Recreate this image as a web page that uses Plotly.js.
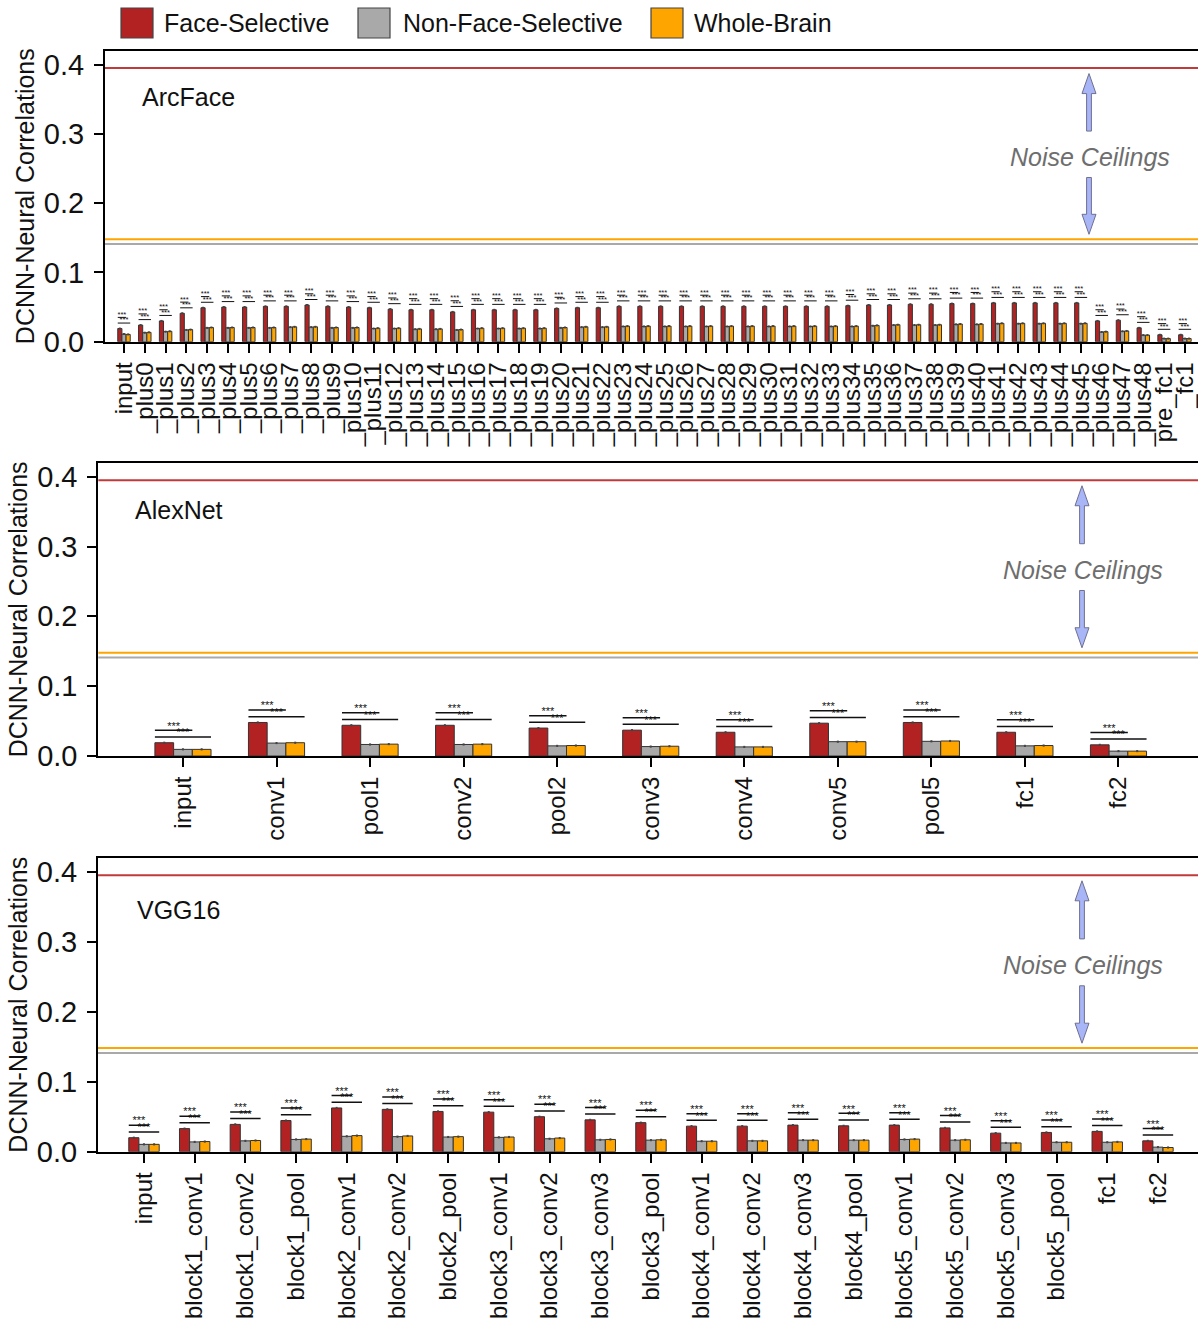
<!DOCTYPE html>
<html>
<head>
<meta charset="utf-8">
<script src="https://cdn.plot.ly/plotly-3.0.1.min.js"></script>
<style>
  html, body { margin: 0; padding: 0; background: #ffffff; }
  #chart { width: 1198px; height: 1319px; }
</style>
</head>
<body>
<div id="chart"></div>
<script>
// ---------------- DATA ----------------
const seriesNames = ['Face-Selective', 'Non-Face-Selective', 'Whole-Brain'];
const seriesColors = ['#B22222', '#A9A9A9', '#FFA500'];
// noise ceilings in series order: face, non-face, whole-brain
const noiseCeilings = [0.395, 0.141, 0.148];
const sigLabel = '***';

// ArcFace
const arcLabels = ['input', '_plus0', '_plus1', '_plus2', '_plus3', '_plus4', '_plus5', '_plus6', '_plus7', '_plus8',
  '_plus9', '_plus10', '_plus11', '_plus12', '_plus13', '_plus14', '_plus15', '_plus16', '_plus17', '_plus18',
  '_plus19', '_plus20', '_plus21', '_plus22', '_plus23', '_plus24', '_plus25', '_plus26', '_plus27', '_plus28',
  '_plus29', '_plus30', '_plus31', '_plus32', '_plus33', '_plus34', '_plus35', '_plus36', '_plus37', '_plus38',
  '_plus39', '_plus40', '_plus41', '_plus42', '_plus43', '_plus44', '_plus45', '_plus46', '_plus47', '_plus48',
  'pre_fc1', '_fc1'];
const arcFace = [0.019, 0.024, 0.030, 0.041, 0.049, 0.050, 0.050, 0.051, 0.051, 0.053,
  0.051, 0.050, 0.049, 0.047, 0.046, 0.046, 0.043, 0.046, 0.046, 0.046,
  0.046, 0.048, 0.049, 0.049, 0.051, 0.051, 0.051, 0.051, 0.051, 0.051,
  0.051, 0.051, 0.051, 0.051, 0.051, 0.052, 0.053, 0.053, 0.054, 0.054,
  0.055, 0.055, 0.056, 0.056, 0.056, 0.056, 0.056, 0.030, 0.031, 0.020,
  0.010, 0.010];
const arcNonFace = [0.011, 0.013, 0.0145, 0.017, 0.020, 0.020, 0.020, 0.020, 0.021, 0.021,
  0.020, 0.020, 0.019, 0.019, 0.018, 0.018, 0.017, 0.019, 0.019, 0.019,
  0.019, 0.020, 0.021, 0.021, 0.022, 0.022, 0.022, 0.022, 0.022, 0.022,
  0.022, 0.022, 0.022, 0.022, 0.022, 0.022, 0.023, 0.024, 0.024, 0.024,
  0.025, 0.025, 0.026, 0.026, 0.026, 0.026, 0.026, 0.014, 0.015, 0.0095,
  0.0045, 0.0045];
const arcWhole = [0.0105, 0.0135, 0.015, 0.0175, 0.0205, 0.0205, 0.0205, 0.0205, 0.0215, 0.0215,
  0.0205, 0.0205, 0.0195, 0.0195, 0.0185, 0.0185, 0.0175, 0.0195, 0.0195, 0.0195,
  0.0195, 0.0205, 0.0215, 0.0215, 0.0225, 0.0225, 0.0225, 0.0225, 0.0225, 0.0225,
  0.0225, 0.0225, 0.0225, 0.0225, 0.0225, 0.0225, 0.0235, 0.0245, 0.0245, 0.0245,
  0.0255, 0.0255, 0.0265, 0.0265, 0.0265, 0.0265, 0.0265, 0.0145, 0.0155, 0.0095,
  0.0045, 0.0045];

// AlexNet
const alexLabels = ['input', 'conv1', 'pool1', 'conv2', 'pool2', 'conv3', 'conv4', 'conv5', 'pool5', 'fc1', 'fc2'];
const alexFace = [0.019, 0.048, 0.044, 0.044, 0.040, 0.037, 0.034, 0.047, 0.048, 0.034, 0.016];
const alexNonFace = [0.0095, 0.0185, 0.0165, 0.0165, 0.0145, 0.0135, 0.013, 0.0205, 0.021, 0.0145, 0.007];
const alexWhole = [0.0095, 0.019, 0.017, 0.017, 0.015, 0.014, 0.013, 0.0205, 0.0215, 0.015, 0.007];

// VGG16
const vggLabels = ['input', 'block1_conv1', 'block1_conv2', 'block1_pool', 'block2_conv1', 'block2_conv2',
  'block2_pool', 'block3_conv1', 'block3_conv2', 'block3_conv3', 'block3_pool', 'block4_conv1',
  'block4_conv2', 'block4_conv3', 'block4_pool', 'block5_conv1', 'block5_conv2', 'block5_conv3',
  'block5_pool', 'fc1', 'fc2'];
const vggFace = [0.020, 0.033, 0.039, 0.0445, 0.0625, 0.0605, 0.0575, 0.0565, 0.050, 0.0455, 0.0415,
  0.0365, 0.0365, 0.038, 0.037, 0.038, 0.034, 0.0265, 0.0275, 0.029, 0.0155];
const vggNonFace = [0.0105, 0.014, 0.0155, 0.0175, 0.022, 0.0215, 0.021, 0.0205, 0.0185, 0.017, 0.0165,
  0.015, 0.0155, 0.0165, 0.0165, 0.0175, 0.0165, 0.0125, 0.0135, 0.0135, 0.0065];
const vggWhole = [0.0105, 0.0145, 0.016, 0.018, 0.023, 0.0225, 0.0215, 0.021, 0.0195, 0.0175, 0.017,
  0.015, 0.0155, 0.0165, 0.0165, 0.018, 0.017, 0.0125, 0.0135, 0.014, 0.006];

// ---------------- LAYOUT HELPERS ----------------
const W = 1198, H = 1319;
const FONT = 'Arial, "Liberation Sans", Helvetica, sans-serif';
const px = x => x / W;
const py = y => 1 - y / H;
const YMAX = 0.42;

const panels = [
  { name: 'ArcFace', labels: arcLabels, series: [arcFace, arcNonFace, arcWhole],
    left: 105, top: 50.7, bottom: 341.7, xr: [-0.913, 51.63],
    starSize: 7.5, starLift: 2.5, sigW: 1, gap2: 0.0072, gap1: 0.0082, err: 0.0007,
    nameX: 142, nameY: 97, ncX: 1089 },
  { name: 'AlexNet', labels: alexLabels, series: [alexFace, alexNonFace, alexWhole],
    left: 98.3, top: 462.7, bottom: 756, xr: [-0.905, 10.85],
    starSize: 11, starLift: 3.5, sigW: 1.5, gap2: 0.0075, gap1: 0.0095, err: 0.0008,
    nameX: 135, nameY: 510, ncX: 1082 },
  { name: 'VGG16', labels: vggLabels, series: [vggFace, vggNonFace, vggWhole],
    left: 98, top: 857.7, bottom: 1151.7, xr: [-0.907, 20.79],
    starSize: 11, starLift: 3.5, sigW: 1.5, gap2: 0.0075, gap1: 0.0095, err: 0.0008,
    nameX: 137, nameY: 910, ncX: 1082 }
];

const traces = [];
const shapes = [];
const annotations = [];
const layout = {
  width: W, height: H,
  margin: { l: 0, r: 0, t: 0, b: 0 },
  paper_bgcolor: '#ffffff', plot_bgcolor: '#ffffff',
  font: { family: FONT, color: '#111111' },
  barmode: 'group', bargap: 0.4, bargroupgap: 0,
  showlegend: false,
  shapes: shapes, annotations: annotations
};

panels.forEach((p, k) => {
  const sfx = k === 0 ? '' : String(k + 1);
  const xa = 'x' + sfx, ya = 'y' + sfx;
  const idx = p.labels.map((_, i) => i);
  const unitPerPx = YMAX / (p.bottom - p.top);
  const yPix = v => p.bottom - v / unitPerPx;

  // bars
  p.series.forEach((vals, s) => {
    traces.push({
      type: 'bar', x: idx, y: vals, name: seriesNames[s],
      xaxis: xa, yaxis: ya,
      marker: { color: seriesColors[s], line: { color: '#333333', width: 1 } },
      error_y: { type: 'constant', value: p.err, color: '#444444', thickness: 1, width: 1 },
      hovertemplate: '%{y:.3f}<extra>' + seriesNames[s] + '</extra>'
    });
  });

  // significance lines: face vs non-face (upper), face vs whole (lower)
  const lx = [], ly = [], tx = [], ty = [];
  const lift = p.starLift * unitPerPx;
  p.series[0].forEach((v, i) => {
    const l2 = v + p.err + p.gap2;
    const l1 = l2 + p.gap1;
    lx.push(i - 0.3, i + 0.1, null, i - 0.3, i + 0.3, null);
    ly.push(l1, l1, null, l2, l2, null);
    tx.push(i - 0.1, i);
    ty.push(l1 + lift, l2 + lift);
  });
  traces.push({
    type: 'scatter', mode: 'lines', x: lx, y: ly, xaxis: xa, yaxis: ya,
    line: { color: '#111111', width: p.sigW }, hoverinfo: 'skip', connectgaps: false
  });
  traces.push({
    type: 'scatter', mode: 'text', x: tx, y: ty, xaxis: xa, yaxis: ya,
    text: tx.map(() => sigLabel), textposition: 'middle center',
    textfont: { size: p.starSize, color: '#111111', family: FONT }, hoverinfo: 'skip'
  });

  // axes
  const yDom = [py(p.bottom), py(p.top)];
  layout['xaxis' + sfx] = {
    domain: [px(p.left), 1], anchor: ya, range: p.xr,
    tickmode: 'array', tickvals: idx, ticktext: p.labels, tickangle: -90,
    tickfont: { size: 24, family: FONT, color: '#111111' },
    ticks: 'outside', ticklen: 9, tickwidth: 2, tickcolor: '#000000',
    showline: true, linecolor: '#000000', linewidth: 2, mirror: true,
    showgrid: false, zeroline: false, fixedrange: true
  };
  layout['yaxis' + sfx] = {
    domain: yDom, anchor: xa, range: [0, YMAX],
    tickmode: 'array', tickvals: [0, 0.1, 0.2, 0.3, 0.4], ticktext: ['0.0', '0.1', '0.2', '0.3', '0.4'],
    tickfont: { size: 29, family: FONT, color: '#111111' },
    ticks: 'outside', ticklen: 9, tickwidth: 2, tickcolor: '#000000', ticklabelstandoff: 4,
    showline: true, linecolor: '#000000', linewidth: 2, mirror: true,
    showgrid: false, zeroline: false, fixedrange: true,
    title: { text: 'DCNN-Neural Correlations', font: { size: 25, family: FONT, color: '#111111' }, standoff: 2 }
  };

  // noise ceilings
  const ncColors = ['#C03A3A', '#A9A9A9', '#FFA500'];
  [0, 1, 2].forEach(s => {
    shapes.push({
      type: 'line', xref: xa + ' domain', yref: ya, x0: 0, x1: 1,
      y0: noiseCeilings[s], y1: noiseCeilings[s],
      line: { color: ncColors[s], width: 2 }
    });
  });

  // model name
  annotations.push({
    xref: 'paper', yref: 'paper', x: px(p.nameX - 2), y: py(p.nameY),
    xanchor: 'left', yanchor: 'middle', showarrow: false,
    text: p.name, font: { size: 25, family: FONT, color: '#111111' }
  });

  // Noise ceilings label + arrows
  const ncTextY = yPix(0.267);
  annotations.push({
    xref: 'paper', yref: 'paper', x: px(p.ncX + 1), y: py(ncTextY),
    xanchor: 'center', yanchor: 'middle', showarrow: false,
    text: '<i>Noise Ceilings</i>', font: { size: 25, family: FONT, color: '#6e6e6e' }
  });
  const sw = 2.4, hw = 7, hl = 20, cx = p.ncX;
  const arrowPath = (tipY, tailY) => {
    const dir = tipY < tailY ? 1 : -1; // 1 = pointing up
    const baseY = tipY + dir * hl;
    const pts = [
      [cx - sw, tailY], [cx - sw, baseY], [cx - hw, baseY], [cx, tipY],
      [cx + hw, baseY], [cx + sw, baseY], [cx + sw, tailY]
    ];
    return 'M ' + pts.map(q => px(q[0]).toFixed(5) + ',' + py(q[1]).toFixed(5)).join(' L ') + ' Z';
  };
  shapes.push({ type: 'path', xref: 'paper', yref: 'paper',
    path: arrowPath(yPix(0.387), yPix(0.304)),
    fillcolor: '#A8B6F8', line: { color: '#6f7090', width: 1 } });
  shapes.push({ type: 'path', xref: 'paper', yref: 'paper',
    path: arrowPath(yPix(0.155), yPix(0.237)),
    fillcolor: '#A8B6F8', line: { color: '#6f7090', width: 1 } });
});

// custom legend (large swatches as in the reference)
const legendItems = [
  { sx0: 121, sx1: 153, tx: 162 },
  { sx0: 358, sx1: 390, tx: 401 },
  { sx0: 651, sx1: 683, tx: 692 }
];
legendItems.forEach((it, s) => {
  shapes.push({ type: 'rect', xref: 'paper', yref: 'paper',
    x0: px(it.sx0), x1: px(it.sx1), y0: py(38), y1: py(8),
    fillcolor: seriesColors[s], line: { color: '#444444', width: 1.2 } });
  annotations.push({ xref: 'paper', yref: 'paper', x: px(it.tx), y: py(23),
    xanchor: 'left', yanchor: 'middle', showarrow: false,
    text: seriesNames[s], font: { size: 25, family: FONT, color: '#111111' } });
});

Plotly.newPlot('chart', traces, layout, { displayModeBar: false, staticPlot: true });
</script>
</body>
</html>
